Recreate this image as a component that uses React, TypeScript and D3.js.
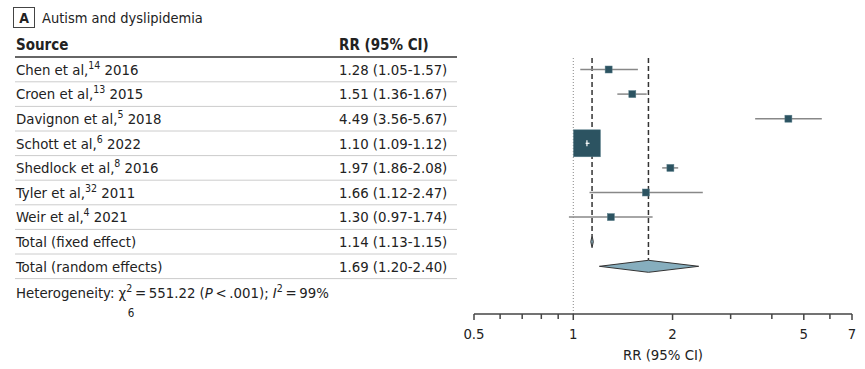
import * as d3 from "d3";

// study rows
const sources = [
  "Chen et al,",
  "Croen et al,",
  "Davignon et al,",
  "Schott et al,",
  "Shedlock et al,",
  "Tyler et al,",
  "Weir et al,",
];
const refs = ["14", "13", "5", "6", "8", "32", "4"];
const years = ["2016", "2015", "2018", "2022", "2016", "2011", "2021"];
const rr = [1.28, 1.51, 4.49, 1.1, 1.97, 1.66, 1.3];
const lower = [1.05, 1.36, 3.56, 1.09, 1.86, 1.12, 0.97];
const upper = [1.57, 1.67, 5.67, 1.12, 2.08, 2.47, 1.74];
const boxSize = [7, 7, 7, 27, 7, 7, 7];

// pooled estimates
const totals = ["Total (fixed effect)", "Total (random effects)"];
const totalRR = [1.14, 1.69];
const totalLo = [1.13, 1.2];
const totalHi = [1.15, 2.4];

const majorTicks = [0.5, 1, 2, 5, 7];
const minorTicks = [0.6, 0.7, 0.8, 0.9, 3, 4, 6];

const FONT = "'DejaVu Sans Condensed', 'Liberation Sans', sans-serif";
const fmt = (v: number) => v.toFixed(2);
const FS = 14.8;

export default function App() {
  const width = 865;
  const height = 369;
  const tableLeft = 15;
  const tableRight = 457;
  const rrCol = 339;
  const axisY = 314;

  const x = d3.scaleLog().domain([0.5, 7]).range([474, 852]);
  const nRows = sources.length + totals.length;
  const y = d3
    .scaleLinear()
    .domain([0, nRows - 1])
    .range([69.5, 69.5 + 24.6 * (nRows - 1)]);
  const half = 12.3;

  const fixedRow = sources.length;
  const randomRow = sources.length + 1;

  return (
    <svg
      width={width}
      height={height}
      style={{ position: "absolute", left: 0, top: 0, background: "#fff" }}
      fontFamily={FONT}
    >
      {/* panel label */}
      <rect x={13.5} y={7.5} width={21} height={20} fill="none" stroke="#444" strokeWidth={1} />
      <text x={24} y={22.5} textAnchor="middle" fontSize={14} fontWeight="bold" fill="#222">
        A
      </text>
      <text x={42} y={22.5} fontSize={14.5} fill="#222">
        Autism and dyslipidemia
      </text>

      {/* table header */}
      <text x={tableLeft + 1} y={50} fontSize={15} fontWeight="bold" fill="#222">
        Source
      </text>
      <text x={rrCol} y={50} fontSize={15} fontWeight="bold" fill="#222">
        RR (95% CI)
      </text>
      <line x1={tableLeft} x2={tableRight} y1={57} y2={57} stroke="#666" strokeWidth={2} />

      {/* row separators */}
      {d3.range(nRows).map((i) => (
        <line
          key={"sep" + i}
          x1={tableLeft}
          x2={tableRight}
          y1={y(i) + half}
          y2={y(i) + half}
          stroke="#ccc"
          strokeWidth={1}
        />
      ))}

      {/* study labels */}
      {sources.map((s, i) => (
        <g key={"row" + i} fontSize={FS} fill="#222">
          <text x={tableLeft + 1} y={y(i) + 5.3}>
            {s}
            <tspan dy={-6} fontSize={10.5}>
              {refs[i]}
            </tspan>
            <tspan dy={6}>{" " + years[i]}</tspan>
          </text>
          <text x={rrCol} y={y(i) + 5.3}>
            {`${fmt(rr[i])} (${fmt(lower[i])}-${fmt(upper[i])})`}
          </text>
        </g>
      ))}
      {totals.map((t, j) => (
        <g key={"tot" + j} fontSize={FS} fill="#222">
          <text x={tableLeft + 1} y={y(fixedRow + j) + 5.3}>
            {t}
          </text>
          <text x={rrCol} y={y(fixedRow + j) + 5.3}>
            {`${fmt(totalRR[j])} (${fmt(totalLo[j])}-${fmt(totalHi[j])})`}
          </text>
        </g>
      ))}

      {/* heterogeneity */}
      <text x={tableLeft + 1} y={298} fontSize={FS} fill="#222">
        Heterogeneity: χ
        <tspan dy={-6} fontSize={10.5}>2</tspan>
        <tspan dy={6}>{"\u2009=\u2009551.22 ("}</tspan>
        <tspan fontStyle="italic">P</tspan>
        <tspan>{"\u2009<\u2009.001); "}</tspan>
        <tspan fontStyle="italic">I</tspan>
        <tspan dy={-6} fontSize={10.5}>2</tspan>
        <tspan dy={6}>{"\u2009=\u200999%"}</tspan>
      </text>
      <text x={131} y={317} fontSize={11.5} fill="#222" textAnchor="middle">
        6
      </text>

      {/* null line */}
      <line
        x1={x(1)}
        x2={x(1)}
        y1={58}
        y2={axisY}
        stroke="#888"
        strokeWidth={1}
        strokeDasharray="1,2"
      />

      {/* pooled reference lines */}
      <line
        x1={x(totalRR[0])}
        x2={x(totalRR[0])}
        y1={58}
        y2={y(fixedRow) - 6}
        stroke="#333"
        strokeWidth={1.5}
        strokeDasharray="5,3"
      />
      <line
        x1={x(totalRR[1])}
        x2={x(totalRR[1])}
        y1={58}
        y2={y(randomRow) - 6}
        stroke="#333"
        strokeWidth={1.5}
        strokeDasharray="5,3"
      />

      {/* study CIs and boxes */}
      {sources.map((_, i) => {
        const s = boxSize[i];
        return (
          <g key={"mark" + i}>
            <line
              x1={x(lower[i])}
              x2={x(upper[i])}
              y1={y(i)}
              y2={y(i)}
              stroke="#888"
              strokeWidth={1.5}
            />
            <rect
              x={x(rr[i]) - s / 2}
              y={y(i) - s / 2}
              width={s}
              height={s}
              fill="#2c5361"
              stroke="#5a7e8a"
              strokeWidth={0.5}
            />
            {s > 12 && (
              <g stroke="#fff" strokeWidth={1.2}>
                <line x1={x(lower[i])} x2={x(upper[i])} y1={y(i)} y2={y(i)} />
                <line x1={x(rr[i])} x2={x(rr[i])} y1={y(i) - 3} y2={y(i) + 3} />
              </g>
            )}
          </g>
        );
      })}

      {/* pooled diamonds */}
      {totals.map((_, j) => {
        const cy = y(fixedRow + j);
        const h = 6;
        const pts = [
          [x(totalLo[j]), cy],
          [x(totalRR[j]), cy - h],
          [x(totalHi[j]), cy],
          [x(totalRR[j]), cy + h],
        ];
        return (
          <polygon
            key={"dia" + j}
            points={pts.map((p) => p.join(",")).join(" ")}
            fill="#86aebe"
            stroke="#333"
            strokeWidth={1}
          />
        );
      })}

      {/* x axis */}
      <line x1={x(0.5)} x2={x(7)} y1={axisY} y2={axisY} stroke="#444" strokeWidth={1.5} />
      {majorTicks.map((t) => (
        <g key={"mt" + t}>
          <line x1={x(t)} x2={x(t)} y1={axisY} y2={axisY + 6} stroke="#444" strokeWidth={1.5} />
          <text x={x(t)} y={axisY + 25} textAnchor="middle" fontSize={FS} fill="#222">
            {t}
          </text>
        </g>
      ))}
      {minorTicks.map((t) => (
        <line
          key={"nt" + t}
          x1={x(t)}
          x2={x(t)}
          y1={axisY}
          y2={axisY + 5}
          stroke="#444"
          strokeWidth={1.5}
        />
      ))}
      <text x={(x(0.5) + x(7)) / 2} y={360} textAnchor="middle" fontSize={FS} fill="#222">
        RR (95% CI)
      </text>
    </svg>
  );
}
